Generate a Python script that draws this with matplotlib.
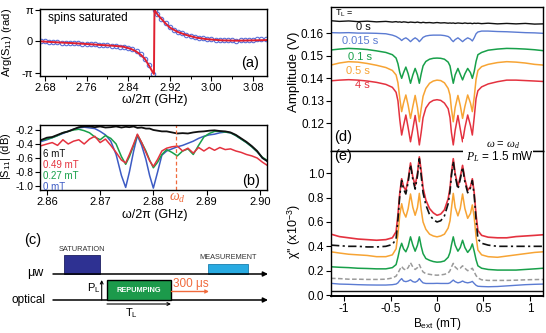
import numpy as np
import matplotlib
matplotlib.use('Agg')
import matplotlib.pyplot as plt
from matplotlib.patches import Rectangle

plt.rcParams['font.family'] = ['Liberation Sans', 'DejaVu Sans']
plt.rcParams['mathtext.fontset'] = 'custom'
plt.rcParams['mathtext.rm'] = 'Liberation Sans'
plt.rcParams['mathtext.it'] = 'Liberation Serif:italic'
plt.rcParams['mathtext.bf'] = 'Liberation Sans:bold'
plt.rcParams['axes.unicode_minus'] = False

# ---------------- data ----------------
# (a) phase of S11 with spins saturated, in units of pi
freq_a_pts = [2.672, 2.680, 2.688, 2.696, 2.704, 2.712, 2.720, 2.728, 2.736, 2.744,
              2.752, 2.760, 2.768, 2.776, 2.784, 2.792, 2.800, 2.808, 2.816, 2.824,
              2.832, 2.840, 2.848, 2.856, 2.864, 2.872, 2.880, 2.888, 2.8915, 2.896,
              2.904, 2.912, 2.920, 2.928, 2.936, 2.944, 2.952, 2.960, 2.968, 2.976,
              2.984, 2.992, 3.000, 3.008, 3.016, 3.024, 3.032, 3.040, 3.048, 3.056,
              3.064, 3.072, 3.080, 3.088, 3.096, 3.104]
phase_a_pts = [0.01, 0.0, -0.01, -0.02, -0.03, -0.04, -0.045, -0.05, -0.06, -0.065,
               -0.075, -0.08, -0.09, -0.10, -0.11, -0.12, -0.13, -0.14, -0.15, -0.17,
               -0.19, -0.22, -0.26, -0.32, -0.42, -0.56, -0.76, -1.05, 1.0, 0.86,
               0.71, 0.57, 0.45, 0.37, 0.30, 0.25, 0.20, 0.17, 0.14, 0.11,
               0.09, 0.07, 0.06, 0.05, 0.04, 0.03, 0.03, 0.03, 0.02, 0.03,
               0.03, 0.04, 0.05, 0.06, 0.07, 0.08]
freq_a_fit = [2.67, 2.70, 2.73, 2.76, 2.79, 2.81, 2.83, 2.845, 2.855, 2.865,
              2.872, 2.878, 2.883, 2.887, 2.8895, 2.8905, 2.893, 2.897, 2.903, 2.91,
              2.92, 2.935, 2.95, 2.97, 2.99, 3.02, 3.05, 3.08, 3.106]
phase_a_fit = [0.0, -0.03, -0.055, -0.085, -0.12, -0.14, -0.17, -0.24, -0.32, -0.44,
               -0.56, -0.72, -0.86, -0.98, -1.04, 1.0, 0.94, 0.84, 0.73, 0.60,
               0.44, 0.30, 0.21, 0.12, 0.07, 0.03, 0.02, 0.03, 0.04]

# (b) |S11| (dB) for several fields
freq_b = [2.8587, 2.860, 2.861, 2.862, 2.863, 2.864, 2.865, 2.866, 2.867, 2.868,
          2.869, 2.870, 2.871, 2.872, 2.873, 2.874, 2.8748, 2.8755, 2.8763, 2.877,
          2.8778, 2.8786, 2.8793, 2.880, 2.8808, 2.8816, 2.8825, 2.8835, 2.8845, 2.8855,
          2.8865, 2.8875, 2.8885, 2.8895, 2.8905, 2.8915, 2.8925, 2.8935, 2.8945, 2.8955,
          2.8965, 2.8975, 2.8985, 2.8995, 2.9005, 2.9013]
s11_6mT = [-0.35, -0.31, -0.30, -0.27, -0.24, -0.22, -0.19, -0.16, -0.15, -0.15,
           -0.16, -0.15, -0.165, -0.16, -0.15, -0.165, -0.155, -0.16, -0.15, -0.17,
           -0.165, -0.18, -0.18, -0.20, -0.21, -0.22, -0.22, -0.235, -0.25, -0.245,
           -0.25, -0.235, -0.225, -0.22, -0.21, -0.205, -0.215, -0.22, -0.235, -0.27,
           -0.32, -0.37, -0.43, -0.50, -0.60, -0.64]
s11_049mT = [-0.43, -0.40, -0.38, -0.42, -0.34, -0.40, -0.36, -0.34, -0.40, -0.33,
             -0.29, -0.38, -0.33, -0.42, -0.52, -0.63, -0.67, -0.55, -0.40, -0.26,
             -0.38, -0.52, -0.64, -0.72, -0.62, -0.50, -0.46, -0.44, -0.43, -0.50,
             -0.46, -0.53, -0.45, -0.50, -0.45, -0.49, -0.45, -0.48, -0.47, -0.50,
             -0.52, -0.55, -0.57, -0.60, -0.66, -0.70]
s11_027mT = [-0.35, -0.33, -0.31, -0.28, -0.24, -0.22, -0.20, -0.19, -0.21, -0.24,
             -0.30, -0.34, -0.28, -0.32, -0.40, -0.58, -0.69, -0.58, -0.42, -0.27,
             -0.38, -0.50, -0.63, -0.74, -0.66, -0.55, -0.48, -0.52, -0.57, -0.50,
             -0.47, -0.55, -0.42, -0.30, -0.25, -0.22, -0.22, -0.23, -0.24, -0.28,
             -0.33, -0.38, -0.44, -0.51, -0.59, -0.63]
s11_0mT = [-0.37, -0.34, -0.31, -0.28, -0.25, -0.22, -0.19, -0.17, -0.16, -0.17,
           -0.18, -0.22, -0.27, -0.36, -0.55, -0.85, -1.02, -0.80, -0.50, -0.28,
           -0.42, -0.62, -0.85, -1.03, -0.80, -0.56, -0.50, -0.47, -0.44, -0.42,
           -0.39, -0.36, -0.32, -0.29, -0.27, -0.26, -0.24, -0.23, -0.24, -0.28,
           -0.33, -0.38, -0.44, -0.51, -0.60, -0.64]
omega_d = 2.8842

# (d),(e) versus field B (mT)
B = [-1.14, -1.05, -0.95, -0.85, -0.75, -0.65, -0.55, -0.48, -0.44, -0.42,
     -0.40, -0.38, -0.36, -0.335, -0.31, -0.285, -0.26, -0.235, -0.21, -0.19,
     -0.17, -0.15, -0.12, -0.08, -0.04, 0.0, 0.04, 0.08, 0.12, 0.14,
     0.155, 0.175, 0.195, 0.225, 0.25, 0.275, 0.30, 0.33, 0.36, 0.38,
     0.40, 0.42, 0.44, 0.48, 0.55, 0.65, 0.75, 0.85, 0.95, 1.05,
     1.14]
amp_0s = [0.1656, 0.1653, 0.1655, 0.1652, 0.1654, 0.1651, 0.1653, 0.1650, 0.1652, 0.1650,
          0.1651, 0.1649, 0.1651, 0.1650, 0.1648, 0.1650, 0.1649, 0.1648, 0.1650, 0.1648,
          0.1647, 0.1649, 0.1647, 0.1648, 0.1646, 0.1648, 0.1646, 0.1647, 0.1645, 0.1646,
          0.1645, 0.1646, 0.1644, 0.1646, 0.1645, 0.1644, 0.1646, 0.1644, 0.1645, 0.1643,
          0.1645, 0.1644, 0.1645, 0.1643, 0.1645, 0.1642, 0.1644, 0.1642, 0.1644, 0.1641,
          0.1642]
amp_0015s = [0.1603, 0.1602, 0.1603, 0.1601, 0.1601, 0.1600, 0.1598, 0.1592, 0.1586, 0.1581,
             0.1576, 0.1568, 0.1575, 0.1580, 0.1573, 0.1563, 0.1573, 0.1580, 0.1573, 0.1563,
             0.1572, 0.1582, 0.1588, 0.1591, 0.1592, 0.1592, 0.1592, 0.1590, 0.1586, 0.1580,
             0.1571, 0.1563, 0.1572, 0.1580, 0.1572, 0.1563, 0.1572, 0.1580, 0.1574, 0.1566,
             0.1580, 0.1598, 0.1606, 0.1610, 0.1610, 0.1608, 0.1607, 0.1605, 0.1603, 0.1602,
             0.1600]
amp_01s = [0.1526, 0.1530, 0.1533, 0.1531, 0.1528, 0.1522, 0.1515, 0.1505, 0.1490, 0.1465,
           0.1425, 0.1400, 0.1425, 0.1450, 0.1420, 0.1378, 0.1415, 0.1444, 0.1415, 0.1378,
           0.1420, 0.1455, 0.1475, 0.1485, 0.1489, 0.1490, 0.1489, 0.1485, 0.1472, 0.1455,
           0.1420, 0.1378, 0.1415, 0.1444, 0.1418, 0.1393, 0.1420, 0.1444, 0.1425, 0.1400,
           0.1430, 0.1475, 0.1505, 0.1515, 0.1525, 0.1530, 0.1533, 0.1532, 0.1530, 0.1527,
           0.1523]
amp_05s = [0.1459, 0.1468, 0.1474, 0.1472, 0.1466, 0.1458, 0.1448, 0.1435, 0.1415, 0.1380,
           0.1310, 0.1252, 0.1290, 0.1326, 0.1280, 0.1222, 0.1275, 0.1324, 0.1270, 0.1207,
           0.1265, 0.1320, 0.1355, 0.1378, 0.1388, 0.1392, 0.1390, 0.1380, 0.1355, 0.1325,
           0.1265, 0.1207, 0.1270, 0.1324, 0.1280, 0.1222, 0.1275, 0.1326, 0.1290, 0.1252,
           0.1315, 0.1395, 0.1435, 0.1452, 0.1462, 0.1470, 0.1474, 0.1472, 0.1468, 0.1462,
           0.1459]
amp_4s = [0.1389, 0.1392, 0.1394, 0.1392, 0.1388, 0.1382, 0.1373, 0.1360, 0.1338, 0.1300,
          0.1215, 0.1148, 0.1190, 0.1237, 0.1180, 0.1118, 0.1175, 0.1235, 0.1168, 0.1104,
          0.1160, 0.1225, 0.1268, 0.1292, 0.1302, 0.1305, 0.1302, 0.1290, 0.1265, 0.1225,
          0.1160, 0.1104, 0.1168, 0.1235, 0.1175, 0.1118, 0.1180, 0.1237, 0.1190, 0.1148,
          0.1225, 0.1310, 0.1345, 0.1362, 0.1375, 0.1385, 0.1392, 0.1392, 0.1390, 0.1388,
          0.1386]

chi_4s = [0.500, 0.480, 0.470, 0.460, 0.455, 0.450, 0.455, 0.470, 0.520, 0.660,
          0.840, 0.955, 0.890, 0.860, 0.950, 1.085, 0.970, 0.900, 1.000, 1.135,
          1.020, 0.880, 0.780, 0.710, 0.675, 0.655, 0.665, 0.700, 0.790, 0.880,
          1.000, 1.120, 1.000, 0.890, 0.970, 1.065, 0.950, 0.860, 0.890, 0.955,
          0.840, 0.660, 0.530, 0.490, 0.475, 0.470, 0.470, 0.480, 0.485, 0.490,
          0.495]
chi_model = [0.410, 0.405, 0.400, 0.400, 0.395, 0.395, 0.400, 0.415, 0.460, 0.620,
             0.820, 0.940, 0.870, 0.830, 0.930, 1.070, 0.950, 0.870, 0.980, 1.120,
             0.980, 0.840, 0.740, 0.660, 0.620, 0.600, 0.610, 0.650, 0.750, 0.850,
             0.980, 1.100, 0.980, 0.870, 0.950, 1.050, 0.930, 0.840, 0.880, 0.940,
             0.820, 0.620, 0.460, 0.425, 0.410, 0.400, 0.400, 0.400, 0.400, 0.400,
             0.400]
chi_05s = [0.355, 0.345, 0.335, 0.330, 0.325, 0.315, 0.315, 0.330, 0.380, 0.500,
           0.660, 0.750, 0.680, 0.640, 0.710, 0.830, 0.720, 0.655, 0.720, 0.835,
           0.700, 0.600, 0.540, 0.500, 0.485, 0.478, 0.485, 0.500, 0.550, 0.610,
           0.710, 0.835, 0.720, 0.650, 0.710, 0.830, 0.710, 0.630, 0.670, 0.740,
           0.640, 0.480, 0.370, 0.330, 0.315, 0.310, 0.320, 0.330, 0.340, 0.350,
           0.355]
chi_01s = [0.232, 0.228, 0.225, 0.220, 0.218, 0.215, 0.215, 0.225, 0.250, 0.310,
           0.380, 0.425, 0.380, 0.355, 0.400, 0.478, 0.410, 0.360, 0.410, 0.478,
           0.400, 0.340, 0.300, 0.285, 0.275, 0.270, 0.272, 0.280, 0.310, 0.350,
           0.410, 0.478, 0.410, 0.360, 0.390, 0.450, 0.390, 0.350, 0.380, 0.420,
           0.360, 0.290, 0.240, 0.220, 0.210, 0.205, 0.205, 0.205, 0.210, 0.215,
           0.220]
chi_dashed = [0.137, 0.135, 0.130, 0.130, 0.128, 0.128, 0.130, 0.140, 0.155, 0.180,
              0.210, 0.235, 0.215, 0.205, 0.225, 0.265, 0.230, 0.210, 0.225, 0.250,
              0.215, 0.190, 0.175, 0.170, 0.165, 0.163, 0.165, 0.170, 0.180, 0.200,
              0.230, 0.260, 0.230, 0.210, 0.220, 0.240, 0.220, 0.200, 0.210, 0.220,
              0.190, 0.160, 0.140, 0.125, 0.120, 0.120, 0.120, 0.122, 0.125, 0.127,
              0.128]
chi_0015s = [0.096, 0.090, 0.088, 0.085, 0.083, 0.082, 0.082, 0.085, 0.090, 0.100,
             0.120, 0.135, 0.115, 0.110, 0.115, 0.125, 0.110, 0.105, 0.115, 0.135,
             0.115, 0.100, 0.095, 0.095, 0.095, 0.096, 0.095, 0.095, 0.095, 0.100,
             0.110, 0.123, 0.110, 0.100, 0.105, 0.115, 0.105, 0.100, 0.105, 0.112,
             0.095, 0.080, 0.072, 0.070, 0.068, 0.070, 0.075, 0.080, 0.085, 0.088,
             0.090]
chi_0s = 0.033

# colours
BLACK = '#111111'
BLUE = '#5b7bd2'
BLUE_B = '#3d5bc4'
GREEN = '#18a04a'
ORANGE = '#f7a434'
RED = '#e4323f'
GRAY = '#9a9a9a'
OMEGA = '#f06a3c'

# ---------------- layout helpers (pixels) ----------------
W, H = 546, 333
fig = plt.figure(figsize=(W / 100, H / 100), dpi=100)


def box(left, top, right, bottom):
    return [left / W, 1 - bottom / H, (right - left) / W, (bottom - top) / H]


def label(x, y, s, **kw):
    kw.setdefault('ha', 'center')
    kw.setdefault('va', 'center')
    kw.setdefault('zorder', 6)
    fig.text(x / W, 1 - y / H, s, **kw)


# canvas for panel (c), in pixel coordinates
ax_c = fig.add_axes([0, 0, 1, 1])
ax_c.set_xlim(0, W)
ax_c.set_ylim(H, 0)
ax_c.axis('off')

ax_a = fig.add_axes(box(40, 9.3, 266.7, 76))
ax_b = fig.add_axes(box(40, 125, 266.7, 190))
ax_d = fig.add_axes(box(331, 7, 543, 151))
ax_e = fig.add_axes(box(331, 151, 543, 296), sharex=ax_d)

for ax in (ax_a, ax_b, ax_d, ax_e):
    ax.tick_params(direction='out', length=3.5, width=0.8, pad=1.5)
    for sp in ax.spines.values():
        sp.set_linewidth(1.0)

# ---------------- (a) ----------------
ax_a.plot(freq_a_pts, phase_a_pts, 'o', ms=3.2, mfc='none', mec='#5a6fd8', mew=0.8)
ax_a.plot(freq_a_fit, phase_a_fit, color='#e0202f', lw=1.4)
ax_a.set_xlim(2.6704, 3.1063)
ax_a.set_ylim(-1.105, 1.02)
ax_a.set_xticks([2.68, 2.76, 2.84, 2.92, 3.00, 3.08])
ax_a.set_xticklabels(['2.68', '2.76', '2.84', '2.92', '3.00', '3.08'])
ax_a.set_xticks([2.72, 2.80, 2.88, 2.96, 3.04], minor=True)
ax_a.tick_params(which='minor', direction='out', length=2.5, width=0.7)
ax_a.set_yticks([-1, 0, 1])
ax_a.set_yticklabels(['-π', '0', 'π'])
ax_a.tick_params(labelsize=8)
label(48, 18, 'spins saturated', ha='left', fontsize=8.5)
label(250, 63, '(a)', fontsize=10.5)
label(155, 100, 'ω/2π (GHz)', fontsize=9)
label(7, 42, 'Arg(S$_{11}$) (rad)', rotation=90, fontsize=8)

# ---------------- (b) ----------------
ax_b.plot(freq_b, s11_0mT, color=BLUE_B, lw=1.1)
ax_b.plot(freq_b, s11_027mT, color=GREEN, lw=1.1)
ax_b.plot(freq_b, s11_049mT, color=RED, lw=1.1)
ax_b.plot(freq_b, s11_6mT, color=BLACK, lw=1.3)
ax_b.axvline(omega_d, color=OMEGA, ls='--', lw=0.9, dashes=(3, 2))
ax_b.set_xlim(2.8587, 2.9013)
ax_b.set_ylim(-1.057, -0.129)
ax_b.set_xticks([2.86, 2.87, 2.88, 2.89, 2.90])
ax_b.set_xticklabels(['2.86', '2.87', '2.88', '2.89', '2.90'])
ax_b.set_yticks([-1.0, -0.8, -0.6, -0.4, -0.2])
ax_b.set_yticklabels(['-1.0', '-0.8', '-0.6', '-0.4', '-0.2'])
ax_b.tick_params(axis='x', labelsize=8)
ax_b.tick_params(axis='y', labelsize=7.5, pad=1)
label(43, 154, '6 mT', ha='left', fontsize=7, color=BLACK)
label(43, 165, '0.49 mT', ha='left', fontsize=7, color=RED)
label(43, 176, '0.27 mT', ha='left', fontsize=7, color=GREEN)
label(43, 187, '0 mT', ha='left', fontsize=7, color=BLUE_B)
label(251, 181, '(b)', fontsize=10.5)
label(177, 198, r'$\omega_d$', fontsize=10, color=OMEGA)
label(155, 215, 'ω/2π (GHz)', fontsize=9)
label(6, 156, '|S$_{11}$| (dB)', rotation=90, fontsize=8)

# ---------------- (c) schematic ----------------
arrow_k = dict(arrowstyle='-|>', lw=1.1, color='k', mutation_scale=7, shrinkA=0, shrinkB=0)
ax_c.annotate('', xy=(268, 274), xytext=(53, 274), arrowprops=arrow_k)
ax_c.annotate('', xy=(268, 300), xytext=(53, 300), arrowprops=arrow_k)
ax_c.add_patch(Rectangle((64.3, 255), 35.7, 19, facecolor='#2e3192', edgecolor='#1d1f60', lw=0.6))
ax_c.add_patch(Rectangle((208, 264), 40, 10, facecolor='#29abe2', edgecolor='#1a7fae', lw=0.6))
ax_c.add_patch(Rectangle((107, 279.5), 63.5, 20.5, facecolor='#1c9a4b', edgecolor='k', lw=1.0, zorder=3))
ax_c.text(138.8, 290, 'REPUMPING', color='white', fontsize=5.3, fontweight='bold',
          ha='center', va='center', zorder=4)
ax_c.annotate('', xy=(101.7, 280), xytext=(101.7, 300),
              arrowprops=dict(arrowstyle='->', lw=0.8, color='k', mutation_scale=5,
                              shrinkA=0, shrinkB=0))
ax_c.annotate('', xy=(171, 304), xytext=(107, 304),
              arrowprops=dict(arrowstyle='->', lw=0.8, color='k', mutation_scale=5,
                              shrinkA=0, shrinkB=0))
ax_c.annotate('', xy=(209, 291.5), xytext=(171.5, 291.5),
              arrowprops=dict(arrowstyle='->', lw=1.0, color=OMEGA, mutation_scale=5,
                              shrinkA=0, shrinkB=0))
ax_c.text(33, 240, '(c)', fontsize=10.5, ha='center', va='center')
ax_c.text(82, 249.5, 'SATURATION', fontsize=5.3, color='#333333', ha='center', va='center')
ax_c.text(228, 257.5, 'MEASUREMENT', fontsize=5.3, color='#333333', ha='center', va='center')
ax_c.text(43, 273, 'μw', fontsize=9, ha='right', va='center')
ax_c.text(45, 299.5, 'optical', fontsize=8.5, ha='right', va='center')
ax_c.text(94, 288, 'P$_{\\rm L}$', fontsize=8, ha='center', va='center')
ax_c.text(131, 313, 'T$_{\\rm L}$', fontsize=8, ha='center', va='center')
ax_c.text(191, 284.5, '300 μs', fontsize=8.5, color=OMEGA, ha='center', va='center')

# ---------------- (d) ----------------
ax_d.plot(B, amp_0s, color=BLACK, lw=1.0)
ax_d.plot(B, amp_0015s, color=BLUE, lw=1.0)
ax_d.plot(B, amp_01s, color=GREEN, lw=1.1)
ax_d.plot(B, amp_05s, color=ORANGE, lw=1.1)
ax_d.plot(B, amp_4s, color=RED, lw=1.1)
ax_d.set_ylim(0.1077, 0.1717)
ax_d.set_yticks([0.12, 0.13, 0.14, 0.15, 0.16])
ax_d.set_yticklabels(['0.12', '0.13', '0.14', '0.15', '0.16'])
ax_d.tick_params(labelsize=8.5, bottom=False, labelbottom=False)
label(335, 13, 'T$_{\\rm L}$ =', ha='left', fontsize=6.5)
label(363, 27.5, '0 s', fontsize=8, color=BLACK)
label(360, 41.5, '0.015 s', fontsize=8, color=BLUE)
label(360, 56.5, '0.1 s', fontsize=8, color=GREEN)
label(358, 70.5, '0.5 s', fontsize=8, color=ORANGE)
label(362, 85.5, '4 s', fontsize=8, color=RED)
label(343, 137, '(d)', fontsize=10.5)
label(294, 72, 'Amplitude (V)', rotation=90, fontsize=9.5)

# ---------------- (e) ----------------
ax_e.axhline(chi_0s, color=BLACK, lw=1.0)
ax_e.plot(B, chi_0015s, color=BLUE, lw=1.0)
ax_e.plot(B, chi_dashed, color=GRAY, lw=1.1, dashes=(3, 1.6))
ax_e.plot(B, chi_01s, color=GREEN, lw=1.1)
ax_e.plot(B, chi_05s, color=ORANGE, lw=1.1)
ax_e.plot(B, chi_4s, color=RED, lw=1.2)
ax_e.plot(B, chi_model, color=BLACK, lw=1.2, dashes=(5, 2, 1.3, 2))
ax_e.set_xlim(-1.14, 1.14)
ax_e.set_ylim(-0.008, 1.183)
ax_e.set_xticks([-1, -0.5, 0, 0.5, 1])
ax_e.set_xticklabels(['-1', '-0.5', '0', '0.5', '1'])
ax_e.set_yticks([0.0, 0.2, 0.4, 0.6, 0.8, 1.0])
ax_e.set_yticklabels(['0.0', '0.2', '0.4', '0.6', '0.8', '1.0'])
ax_e.tick_params(labelsize=8.5)
ax_e.spines['bottom'].set_linewidth(1.4)
label(343, 156, '(e)', fontsize=10.5)
label(294, 232, "χ'' (x10$^{-3}$)", rotation=90, fontsize=9)
label(437, 324.5, 'B$_{\\rm ext}$ (mT)', fontsize=8.5)

# white box with the measurement conditions over the (d)/(e) boundary
fig.patches.append(Rectangle((463 / W, 1 - 163 / H), 70 / W, 24 / H,
                             transform=fig.transFigure, facecolor='white',
                             edgecolor='none', zorder=5))
label(503, 145, r'$\omega$ = $\omega_d$', fontsize=8)
label(500, 157, '$P_L$ = 1.5 mW', fontsize=8.5)

fig.savefig('out.png', dpi=100)
